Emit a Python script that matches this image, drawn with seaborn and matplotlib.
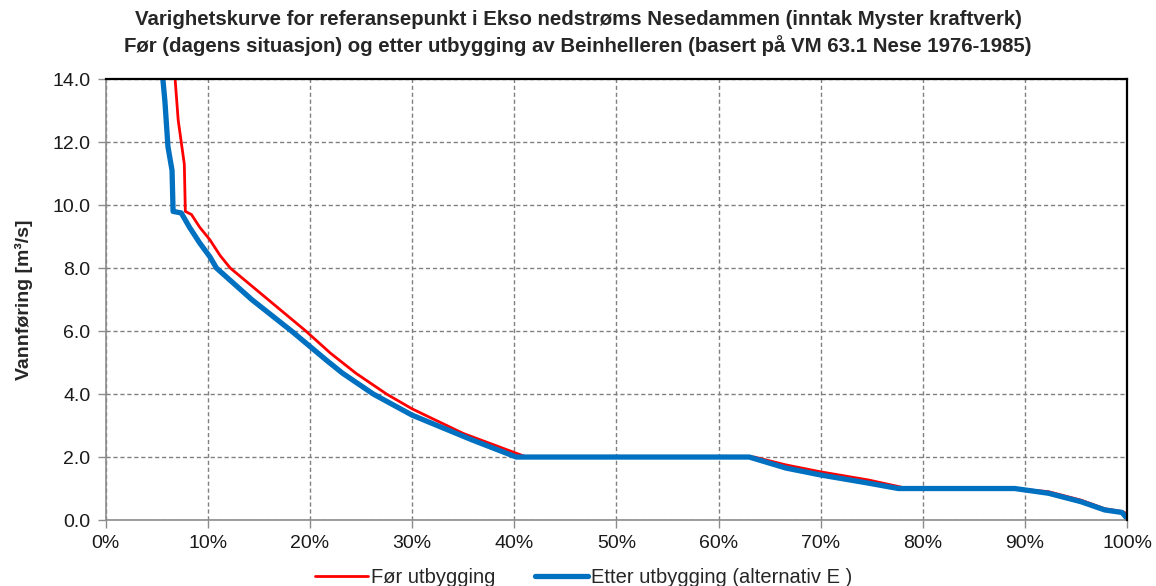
import matplotlib
matplotlib.use("Agg")
import matplotlib.pyplot as plt
from matplotlib import font_manager
from matplotlib.ticker import MultipleLocator, FuncFormatter
import seaborn as sns
import pandas as pd

# Duration curve: exceedance share (%) vs. discharge (m³/s)
for_pct = [6.8, 7.1, 7.4, 7.7, 7.8, 8.4, 9.2, 10.2, 11.2, 12.2, 15.9, 19.6, 22.0,
           24.5, 27.5, 30.0, 35.0, 41.2, 63.5, 66.6, 70.0, 74.7, 78.5, 89.0,
           92.3, 95.5, 97.8, 99.5, 100.0]
for_flow = [14.0, 12.7, 12.0, 11.3, 9.8, 9.7, 9.3, 8.9, 8.4, 8.0, 7.0, 6.0, 5.3,
            4.66, 4.0, 3.53, 2.75, 2.0, 2.0, 1.75, 1.53, 1.27, 1.0, 1.0,
            0.9, 0.63, 0.36, 0.27, 0.2]

etter_pct = [5.6, 5.8, 6.1, 6.5, 6.6, 7.4, 8.2, 9.2, 10.2, 10.85, 14.3, 18.2,
             21.7, 23.2, 26.2, 30.0, 35.9, 40.2, 63.0, 66.6, 70.0, 74.7, 77.6,
             89.0, 92.3, 95.5, 97.8, 99.5, 100.0]
etter_flow = [14.0, 13.3, 11.85, 11.1, 9.8, 9.75, 9.3, 8.8, 8.36, 8.0, 7.0, 6.0,
              5.05, 4.66, 4.0, 3.33, 2.54, 2.0, 2.0, 1.65, 1.43, 1.17, 1.0,
              1.0, 0.85, 0.58, 0.32, 0.24, 0.05]

series_names = ["Før utbygging", "Etter utbygging (alternativ E )"]
series_colors = ["#FF0000", "#0070C0"]
series_widths = [2.0, 3.8]

title_lines = [
    "Varighetskurve for referansepunkt i Ekso nedstrøms Nesedammen (inntak Myster kraftverk)",
    "Før (dagens situasjon) og etter utbygging av Beinhelleren (basert på VM 63.1 Nese 1976-1985)",
]
y_label = "Vannføring [m³/s]"

sns.set_theme(style="white")
available = {f.name for f in font_manager.fontManager.ttflist}
base_font = "Liberation Sans" if "Liberation Sans" in available else "DejaVu Sans"
plt.rcParams["font.family"] = [base_font, "DejaVu Sans"]

fig = plt.figure(figsize=(11.56, 5.86), dpi=100)
ax = fig.add_axes([0.0914, 0.1126, 0.8836, 0.7524])

frames = [
    pd.DataFrame({"pct": for_pct, "flow": for_flow, "serie": series_names[0]}),
    pd.DataFrame({"pct": etter_pct, "flow": etter_flow, "serie": series_names[1]}),
]
for df, color, lw in zip(frames, series_colors, series_widths):
    sns.lineplot(data=df, x="pct", y="flow", ax=ax, color=color, linewidth=lw,
                 sort=False, estimator=None, label=df["serie"].iloc[0])

ax.set_xlim(0, 100)
ax.set_ylim(0, 14)
ax.xaxis.set_major_locator(MultipleLocator(10))
ax.yaxis.set_major_locator(MultipleLocator(2))
ax.xaxis.set_major_formatter(FuncFormatter(lambda v, p: f"{v:.0f}%"))
ax.yaxis.set_major_formatter(FuncFormatter(lambda v, p: f"{v:.1f}"))
ax.grid(True, which="major", color="#808080", linestyle=(0, (3, 2)), linewidth=1.0)
ax.set_axisbelow(True)

for side in ("left", "bottom"):
    ax.spines[side].set_color("#8c8c8c")
    ax.spines[side].set_linewidth(1.2)
for side in ("top", "right"):
    ax.spines[side].set_color("#000000")
    ax.spines[side].set_linewidth(1.6)
    ax.spines[side].set_zorder(5)

ax.tick_params(axis="both", which="major", direction="out", length=6, width=1.0,
               color="#8c8c8c", labelsize=14, labelcolor="#1a1a1a", pad=5)
ax.tick_params(left=True, bottom=True)

ax.set_xlabel("")
ax.set_ylabel(y_label, fontsize=14, fontweight="bold", labelpad=14)

fig.text(0.5, 0.967, title_lines[0], ha="center", va="center", fontsize=14.7,
         fontweight="bold")
fig.text(0.5, 0.922, title_lines[1], ha="center", va="center", fontsize=14.7,
         fontweight="bold")

leg = ax.legend(loc="center", bbox_to_anchor=(0.468, -0.13), ncol=2, frameon=False,
                fontsize=14.5, handlelength=2.6, handletextpad=0.15, columnspacing=2.0)

fig.savefig("out.png", dpi=100)
